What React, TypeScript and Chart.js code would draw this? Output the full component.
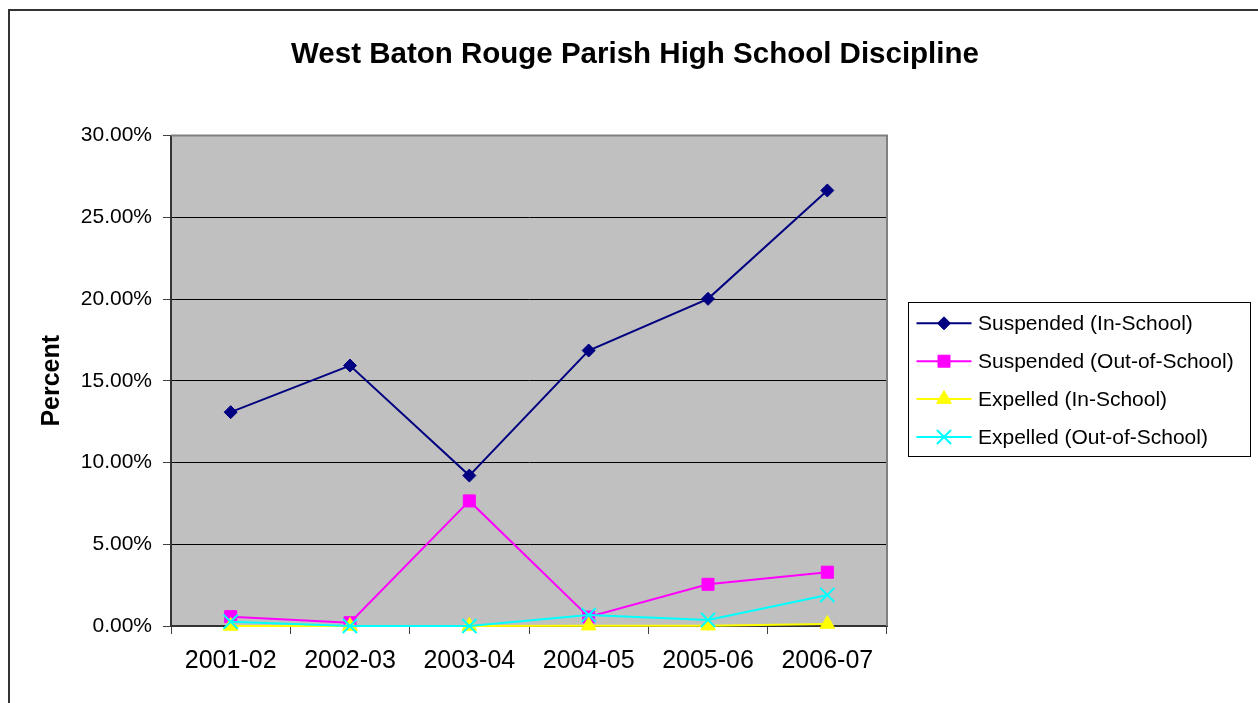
import { useEffect, useRef } from 'react';
import { Chart, registerables } from 'chart.js';
import * as helpers from 'chart.js/helpers';

Chart.register(...registerables);

const categories = ['2001-02', '2002-03', '2003-04', '2004-05', '2005-06', '2006-07'];
const suspendedIn = [13.08, 15.93, 9.2, 16.85, 20.01, 26.64];
const suspendedOut = [0.57, 0.2, 7.65, 0.55, 2.55, 3.29];
const expelledIn = [0.0, 0.0, 0.0, 0.02, 0.02, 0.12];
const expelledOut = [0.26, 0.0, 0.0, 0.67, 0.37, 1.9];
const seriesNames = [
  'Suspended (In-School)',
  'Suspended (Out-of-School)',
  'Expelled (In-School)',
  'Expelled (Out-of-School)',
];
const titleText = 'West Baton Rouge Parish High School Discipline';
const yAxisTitle = 'Percent';

const FONT = '"Liberation Sans", Arial, Helvetica, sans-serif';

const framePlugin = {
  id: 'excelFrame',
  beforeDraw(chart: any) {
    const { ctx, chartArea: a } = chart;
    ctx.save();
    ctx.fillStyle = '#ffffff';
    ctx.fillRect(0, 0, chart.width, chart.height);
    ctx.strokeStyle = '#333333';
    ctx.lineWidth = 2;
    ctx.strokeRect(9, 10, chart.width + 40, chart.height + 40);
    ctx.fillStyle = '#C0C0C0';
    ctx.fillRect(a.left, a.top, a.right - a.left, a.bottom - a.top);
    ctx.restore();
  },
  beforeDatasetsDraw(chart: any) {
    const { ctx, chartArea: a } = chart;
    ctx.save();
    ctx.strokeStyle = '#808080';
    ctx.lineWidth = 2;
    ctx.beginPath();
    ctx.moveTo(a.left, a.top);
    ctx.lineTo(a.right, a.top);
    ctx.lineTo(a.right, a.bottom);
    ctx.stroke();
    ctx.restore();
  },
  afterDraw(chart: any) {
    const { ctx, chartArea: a } = chart;
    const boxX = a.right + 21.5;
    const boxY = 302.5;
    const boxW = 342;
    const boxH = 154;
    ctx.save();
    ctx.fillStyle = '#ffffff';
    ctx.fillRect(boxX, boxY, boxW, boxH);
    ctx.strokeStyle = '#000000';
    ctx.lineWidth = 1;
    ctx.strokeRect(boxX, boxY, boxW, boxH);
    const rowStart = boxY + 20.8;
    const rowGap = 37.9;
    chart.data.datasets.forEach((ds: any, i: number) => {
      const y = rowStart + i * rowGap;
      const x1 = boxX + 8;
      const x2 = boxX + 63;
      ctx.strokeStyle = ds.borderColor;
      ctx.lineWidth = 2;
      ctx.beginPath();
      ctx.moveTo(x1, y);
      ctx.lineTo(x2, y);
      ctx.stroke();
      ctx.fillStyle = ds.pointBackgroundColor;
      ctx.strokeStyle = ds.pointBorderColor;
      ctx.lineWidth = ds.pointBorderWidth;
      helpers.drawPoint(
        ctx,
        { pointStyle: ds.pointStyle, radius: ds.pointRadius, rotation: 0, borderWidth: ds.pointBorderWidth },
        (x1 + x2) / 2,
        y
      );
      ctx.fillStyle = '#000000';
      ctx.font = `21px ${FONT}`;
      ctx.textBaseline = 'middle';
      ctx.textAlign = 'left';
      ctx.fillText(ds.label, boxX + 69.5, y + 1);
    });
    ctx.restore();
  },
};

export default function App() {
  const canvasRef = useRef<HTMLCanvasElement | null>(null);

  useEffect(() => {
    const canvas = canvasRef.current;
    if (!canvas) return;
    const mk = (label: string, data: number[], color: string, style: string, radius: number, order: number, bw = 1) => ({
      label,
      data,
      borderColor: color,
      backgroundColor: color,
      pointBackgroundColor: color,
      pointBorderColor: color,
      pointBorderWidth: bw,
      pointStyle: style,
      pointRadius: radius,
      borderWidth: 2,
      tension: 0,
      clip: false as any,
      order,
    });
    const chart = new Chart(canvas, {
      type: 'line',
      data: {
        labels: categories,
        datasets: [
          mk(seriesNames[0], suspendedIn, '#000080', 'rectRot', 6.5, 3),
          mk(seriesNames[1], suspendedOut, '#FF00FF', 'rect', 8.5, 2),
          mk(seriesNames[2], expelledIn, '#FFFF00', 'triangle', 8.5, 1),
          mk(seriesNames[3], expelledOut, '#00FFFF', 'crossRot', 10, 0, 2),
        ] as any,
      },
      options: {
        responsive: false,
        animation: false,
        layout: { padding: { left: 12, right: 0, top: 20, bottom: 27 } },
        plugins: {
          legend: { display: false },
          tooltip: { enabled: false },
          title: {
            display: true,
            text: titleText,
            color: '#000000',
            font: { family: FONT, size: 29.5, weight: 'bold' },
            padding: { top: 17.5, bottom: 62.6 },
          },
        },
        scales: {
          x: {
            type: 'category',
            offset: true,
            grid: {
              offset: true,
              drawOnChartArea: false,
              drawTicks: true,
              tickLength: 8,
              color: '#404040',
              lineWidth: 1,
            },
            border: { display: true, color: '#333333', width: 2 },
            ticks: {
              color: '#000000',
              font: { family: FONT, size: 25 },
              padding: 12,
              maxRotation: 0,
              autoSkip: false,
            },
            afterFit: (s: any) => {
              s.height = 50;
            },
          },
          y: {
            type: 'linear',
            position: 'left',
            min: 0,
            max: 30,
            ticks: {
              stepSize: 5,
              color: '#000000',
              font: { family: FONT, size: 21 },
              padding: 11,
              callback: (v: any) => Number(v).toFixed(2) + '%',
            },
            grid: {
              color: (c: any) => (c.tick && c.tick.value === 30 ? 'rgba(0,0,0,0)' : '#000000'),
              tickColor: '#404040',
              tickLength: 8,
              lineWidth: 1,
            },
            border: { display: true, color: '#333333', width: 2 },
            title: {
              display: true,
              text: yAxisTitle,
              color: '#000000',
              font: { family: FONT, size: 25, weight: 'bold' },
              padding: { top: 25, bottom: 0 },
            },
            afterFit: (s: any) => {
              s.width = 159;
            },
          },
          rightSpace: {
            type: 'linear',
            position: 'right',
            display: true,
            grid: { display: false },
            ticks: { display: false },
            border: { display: false },
            afterFit: (s: any) => {
              s.width = 371;
            },
          },
        },
      } as any,
      plugins: [framePlugin],
    });
    return () => chart.destroy();
  }, []);

  return (
    <canvas
      ref={canvasRef}
      width={1258}
      height={703}
      style={{ position: 'absolute', left: 0, top: 0, display: 'block', width: 1258, height: 703 }}
    />
  );
}
